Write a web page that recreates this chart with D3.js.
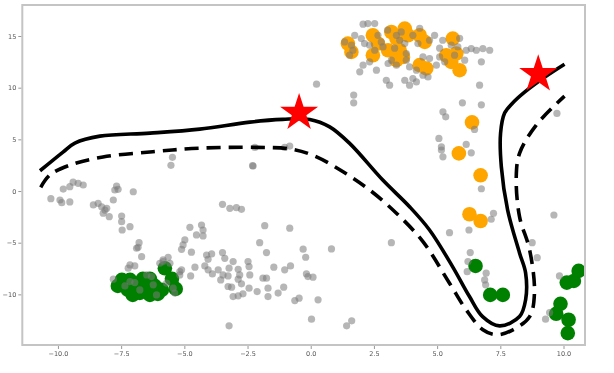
<!DOCTYPE html>
<html>
<head>
<meta charset="utf-8">
<script src="https://cdn.jsdelivr.net/npm/d3@7"></script>
<style>
  body { margin: 0; background: #fff; }
  svg { display: block; }
</style>
</head>
<body>
<svg width="614" height="373"></svg>
<script>
// gray background points [x, y]
const grayPts = [
  [-5.47,3.26],[-5.53,2.49],[-2.30,2.45],[-9.40,0.86],[-9.20,0.74],[-9.00,0.58],[-9.79,0.19],[-9.53,0.42],
  [-10.28,-0.74],[-9.92,-0.87],[-9.53,-1.06],[-9.85,-1.13],[-7.68,0.48],[-7.62,0.16],[-7.75,0.10],[-7.02,-0.07],
  [-8.60,-1.35],[-8.41,-1.19],[-8.27,-1.52],[-8.14,-1.84],[-8.07,-1.67],[-8.21,-2.15],[-7.97,-2.48],[-7.81,-0.87],
  [-7.48,-2.42],[-7.48,-2.97],[-7.46,-3.77],[-7.15,-3.45],[-3.49,-1.29],[-3.20,-1.67],[-2.94,-1.61],[-2.74,-1.77],
  [-1.82,-3.35],[-0.83,-3.60],[-4.78,-3.51],[-4.32,-3.29],[-4.26,-3.77],[-4.52,-4.25],[-4.26,-4.35],[-6.79,-5.00],
  [-6.83,-5.44],[-6.89,-5.54],[-6.69,-6.35],[-4.98,-4.73],[-5.05,-5.22],[-5.11,-5.64],[-2.02,-5.00],[-1.75,-5.96],
  [-4.72,-5.92],[-0.30,-5.63],[-0.20,-6.41],[-7.15,-7.15],[-6.96,-7.25],[-7.22,-7.47],[-5.64,-6.41],[-5.84,-6.67],
  [-5.97,-6.99],[-5.57,-6.99],[-4.12,-6.19],[-3.92,-6.09],[-4.06,-6.61],[-3.49,-5.96],[-3.40,-6.51],[-3.07,-6.83],
  [-4.58,-7.37],[-4.19,-7.25],[-4.06,-7.63],[-3.89,-8.02],[-3.66,-7.63],[-3.47,-8.12],[-3.23,-7.47],[-2.87,-7.57],
  [-2.48,-6.83],[-2.44,-7.31],[-2.81,-8.12],[-2.41,-8.12],[-1.46,-7.37],[-1.03,-7.63],[-0.80,-7.25],[-5.11,-7.63],
  [-5.18,-7.80],[-4.75,-8.22],[-3.56,-8.60],[-3.27,-8.22],[-2.87,-8.53],[-1.89,-8.43],[-1.75,-8.43],[-0.17,-8.02],
  [-0.11,-8.28],[0.09,-8.34],[-3.27,-9.24],[-3.13,-9.30],[-2.74,-8.98],[-2.44,-9.40],[-2.12,-9.73],[-3.07,-10.21],
  [-2.87,-10.14],[-2.68,-9.95],[-1.69,-9.40],[-1.69,-10.21],[-1.29,-9.88],[-1.07,-9.30],[-0.63,-10.60],[-0.46,-10.37],
  [0.29,-10.53],[0.03,-12.40],[-3.23,-13.04],
  [-7.81,-8.53],[-7.15,-8.76],[-6.96,-8.86],[-6.49,-8.12],[-6.30,-8.28],[-6.23,-9.08],[-6.10,-10.05],[-5.84,-6.83],
  [-5.70,-8.92],[-5.44,-9.40],[-5.38,-9.88],[-5.18,-8.12],[-7.35,-9.18],[-6.76,-9.57],
  [0.23,10.34],[1.70,9.28],[1.70,8.53],[5.23,7.66],[5.07,5.09],[5.17,4.28],[5.23,3.31],[-2.28,2.42],
  [-2.21,4.22],[-1.03,4.22],[-0.83,4.35],[0.82,-5.60],[3.19,-5.00],[5.49,-4.03],
  [6.00,8.53],[6.75,8.34],[5.34,7.18],[5.17,3.96],[6.15,4.51],[6.35,3.70],[6.48,5.96],[6.75,0.22],
  [7.23,-2.15],[7.14,-2.73],[6.26,-3.77],[6.31,-5.96],[6.22,-6.83],[6.19,-7.80],[6.94,-7.95],[6.88,-8.60],
  [6.92,-9.08],[9.74,7.51],[9.62,-2.32],[8.76,-5.00],[8.96,-6.45],[9.84,-8.22],[9.45,-11.76],[9.29,-12.40],
  [1.42,-13.04],[1.62,-12.56],
  [2.07,16.14],[2.26,16.20],[2.53,16.20],[1.34,14.43],[1.61,14.11],[1.67,13.62],[2.00,14.75],[2.13,14.27],
  [2.33,14.11],[2.66,15.07],[2.79,14.43],[2.86,13.94],[3.39,15.07],[3.58,15.39],[3.52,14.59],[3.72,14.27],
  [3.78,13.30],[4.04,15.07],[4.24,14.27],[4.44,12.98],[4.70,12.82],[4.90,15.07],[4.97,12.18],[5.10,12.98],
  [5.30,12.50],[5.56,14.11],[5.82,13.94],[6.15,13.62],[6.35,13.78],[6.55,13.62],[6.81,13.78],[7.08,13.62],
  [6.75,12.50],[3.19,12.66],[3.06,12.34],[3.39,12.18],[3.78,12.66],[3.91,12.01],[4.18,11.69],[4.44,11.21],
  [4.64,11.04],[4.04,10.89],[2.33,12.50],[2.07,12.18],[2.60,11.69],[1.94,11.53],[2.99,10.72],[3.12,10.24],
  [3.72,10.72],[3.91,10.24],[4.18,10.56],[6.68,10.24],[1.74,15.07],[3.04,15.56],[4.31,15.75],[4.70,14.59],
  [5.22,14.59],[5.89,14.78],[1.54,13.14],[2.53,13.62],[3.32,13.82],[5.10,13.82],[5.69,13.14],[6.09,12.66]
];

// orange group
const orangePts = [
  [1.47,14.27],[1.61,13.46],[2.46,15.07],[2.66,14.27],[3.19,15.39],[3.39,14.75],[3.72,15.72],[3.85,15.07],
  [3.06,13.62],[3.52,13.62],[4.31,15.07],[4.51,14.43],[4.31,12.18],[4.57,11.86],[5.36,13.14],[5.62,14.75],
  [5.56,12.50],[5.89,11.69],[5.76,13.30],[2.46,13.14],[3.65,12.98],[3.39,12.66],
  [6.38,6.64],[5.86,3.64],[6.72,1.52],[6.28,-2.25],[6.72,-2.90]
];

// green group
const greenPts = [
  [-7.63,-9.18],[-7.47,-8.60],[-7.23,-9.57],[-6.96,-8.99],[-6.76,-9.86],[-6.52,-9.37],[-6.36,-10.05],[-6.17,-9.18],
  [-6.05,-9.95],[-6.64,-8.50],[-7.04,-10.05],[-7.15,-8.60],[-5.89,-9.57],[-5.77,-7.47],[-5.49,-8.50],[-5.34,-9.47],
  [-6.36,-8.50],
  [6.52,-7.25],[7.10,-10.05],[7.60,-10.05],[10.13,-8.86],[10.41,-8.70],[10.60,-7.73],[9.88,-10.92],
  [9.71,-11.88],[10.20,-12.46],[10.17,-13.75]
];

// solid path
const solidPath = [
  [-10.71,1.96],[-9.80,3.77],[-9.33,4.64],[-8.34,5.31],[-6.36,5.60],[-4.39,5.99],[-2.41,6.67],[-1.11,6.93],
  [-0.04,6.93],[0.75,6.21],[1.54,4.61],[2.85,1.06],[3.91,-1.52],[4.70,-3.77],[5.61,-7.31],[6.28,-10.21],
  [6.80,-12.15],[7.47,-13.05],[8.26,-12.15],[8.50,-10.53],[8.50,-7.92],[8.26,-5.99],[7.79,-1.84],[7.54,2.35],
  [7.51,5.60],[7.67,7.54],[7.98,8.50],[8.46,9.57],[9.25,11.01],[10.04,12.27]
];

// dashed path
const dashedPath = [
  [-10.68,0.36],[-10.32,1.55],[-9.53,2.51],[-8.22,3.29],[-6.25,3.80],[-4.39,4.15],[-2.15,4.22],[-0.70,4.03],
  [0.23,3.31],[1.28,1.86],[2.33,0.10],[3.39,-2.15],[4.44,-4.90],[5.49,-8.92],[6.15,-11.50],[6.81,-13.43],
  [7.34,-13.91],[8.00,-13.43],[8.66,-12.15],[8.85,-9.89],[8.66,-5.70],[8.26,-2.48],[8.13,1.38],[8.26,3.64],
  [8.92,6.38],[10.04,9.18]
];

const stars = [[-0.46,7.56],[9.0,11.3]];

const xTicks = [-10, -7.5, -5, -2.5, 0, 2.5, 5, 7.5, 10];
const yTicks = [-10, -5, 0, 5, 10, 15];

const svg = d3.select("svg");
const margin = {top: 5, left: 22.3, bottom: 28, right: 29};
const width = +svg.attr("width");
const height = +svg.attr("height");

const x = d3.scaleLinear().domain([-11.41, 10.85]).range([margin.left, width - margin.right]);
const y = d3.scaleLinear().domain([-14.9, 18.0]).range([height - margin.bottom, margin.top]);

const defs = svg.append("defs");
defs.append("filter").attr("id", "soft")
  .append("feGaussianBlur").attr("stdDeviation", 0.45);

const plot = svg.append("g").attr("filter", "url(#soft)");

// big coloured markers first, gray ones drawn over them
plot.append("g")
  .selectAll("circle")
  .data(orangePts)
  .join("circle")
  .attr("cx", d => x(d[0]))
  .attr("cy", d => y(d[1]))
  .attr("r", 7.3)
  .attr("fill", "#ffa500");

plot.append("g")
  .selectAll("circle")
  .data(greenPts)
  .join("circle")
  .attr("cx", d => x(d[0]))
  .attr("cy", d => y(d[1]))
  .attr("r", 7.3)
  .attr("fill", "#008000");

plot.append("g")
  .attr("fill", "#7a7a7a")
  .attr("fill-opacity", 0.55)
  .selectAll("circle")
  .data(grayPts)
  .join("circle")
  .attr("cx", d => x(d[0]))
  .attr("cy", d => y(d[1]))
  .attr("r", 3.6);

const line = d3.line()
  .x(d => x(d[0]))
  .y(d => y(d[1]))
  .curve(d3.curveCatmullRom.alpha(0.5));

plot.append("path")
  .attr("d", line(solidPath))
  .attr("fill", "none")
  .attr("stroke", "#000")
  .attr("stroke-width", 3.6);

plot.append("path")
  .attr("d", line(dashedPath))
  .attr("fill", "none")
  .attr("stroke", "#000")
  .attr("stroke-width", 3.6)
  .attr("stroke-dasharray", "14,8");

const R = 20;
plot.append("g")
  .selectAll("path")
  .data(stars)
  .join("path")
  .attr("transform", d => `translate(${x(d[0])},${y(d[1])})`)
  .attr("d", d3.symbol(d3.symbolStar).size(R * R / 0.8908130915292852))
  .attr("fill", "#ff0000");

// frame
const frame = svg.append("g").attr("filter", "url(#soft)");
frame.append("rect")
  .attr("x", margin.left)
  .attr("y", margin.top)
  .attr("width", width - margin.right - margin.left)
  .attr("height", height - margin.bottom - margin.top)
  .attr("fill", "none")
  .attr("stroke", "#c4c4c4")
  .attr("stroke-width", 2);

const fmtX = d3.format(".1f");
const xAxis = d3.axisBottom(x).tickValues(xTicks).tickSize(3).tickPadding(2)
  .tickFormat(d => fmtX(d).replace("-", "\u2212"));
const yAxis = d3.axisLeft(y).tickValues(yTicks).tickSize(3).tickPadding(2)
  .tickFormat(d => String(d).replace("-", "\u2212"));

frame.append("g")
  .attr("transform", `translate(0,${height - margin.bottom + 1})`)
  .call(xAxis)
  .call(g => g.select(".domain").remove());

frame.append("g")
  .attr("transform", `translate(${margin.left - 1},0)`)
  .call(yAxis)
  .call(g => g.select(".domain").remove());

frame.selectAll(".tick line").attr("stroke", "#999");
frame.selectAll(".tick text")
  .attr("fill", "#555")
  .style("font-family", "DejaVu Sans, sans-serif")
  .style("font-size", "6.5px");
</script>
</body>
</html>
